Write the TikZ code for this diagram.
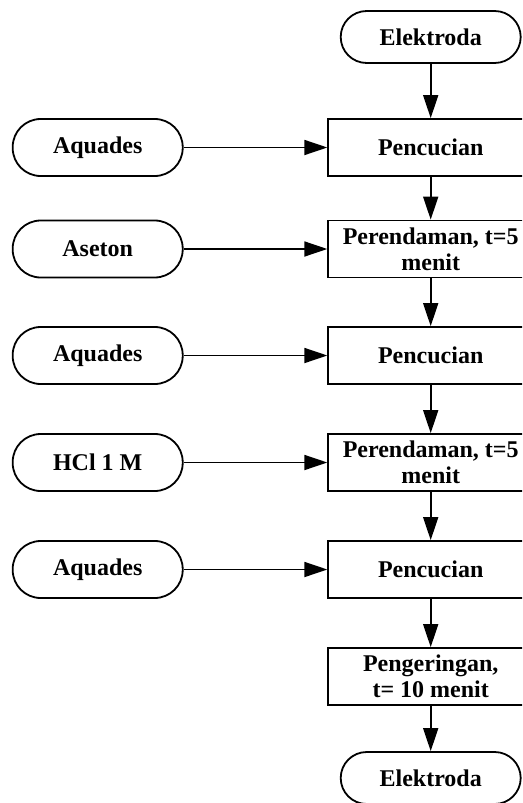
\documentclass[tikz,border=0pt]{standalone}
\usepackage{fontspec}
\setmainfont{Liberation Serif}
\usetikzlibrary{arrows.meta}
\begin{document}
\begin{tikzpicture}[x=1pt,y=-1pt,line width=1.8pt,
  txt/.style={font=\fontsize{24}{26}\selectfont\bfseries},
  box/.style={draw, txt, minimum width=205pt, minimum height=57pt, inner sep=0pt, align=center},
  term/.style={draw, txt, rounded corners=26pt, minimum width=180pt, minimum height=52pt, inner sep=0pt},
  lterm/.style={draw, txt, rounded corners=28pt, minimum width=170pt, minimum height=57pt, inner sep=0pt},
  arr/.style={-{Triangle[length=23pt,width=15pt]}}]
\useasboundingbox (0,0) rectangle (522,803);
\clip (0,0) rectangle (522,803);
% right column
\node[term] (t1) at (430.7,37) {Elektroda};
\node[box] (r1) at (430.7,147.5) {Pencucian};
\node[box] (r2) at (430.7,249) {Perendaman, t=5\\menit};
\node[box] (r3) at (430.7,355.5) {Pencucian};
\node[box] (r4) at (430.7,462.5) {Perendaman, t=5\\menit};
\node[box] (r5) at (430.7,569.5) {Pencucian};
\node[box] (r6) at (430.7,676.5) {Pengeringan,\\t= 10 menit};
\node[term] (t2) at (430.7,778) {Elektroda};
% left column
\node[lterm] (l1) at (97.7,147.5) {Aquades};
\node[lterm] (l2) at (97.7,249) {Aseton};
\node[lterm] (l3) at (97.7,355.5) {Aquades};
\node[lterm] (l4) at (97.7,462.5) {HCl 1 M};
\node[lterm] (l5) at (97.7,569.5) {Aquades};
% vertical connectors
\draw[arr] (t1) -- (r1);
\draw[arr] (r1) -- (r2);
\draw[arr] (r2) -- (r3);
\draw[arr] (r3) -- (r4);
\draw[arr] (r4) -- (r5);
\draw[arr] (r5) -- (r6);
\draw[arr] (r6) -- (t2);
% horizontal connectors
\draw[arr] (l1) -- (r1);
\draw[arr] (l2) -- (r2);
\draw[arr] (l3) -- (r3);
\draw[arr] (l4) -- (r4);
\draw[arr] (l5) -- (r5);
\end{tikzpicture}
\end{document}
